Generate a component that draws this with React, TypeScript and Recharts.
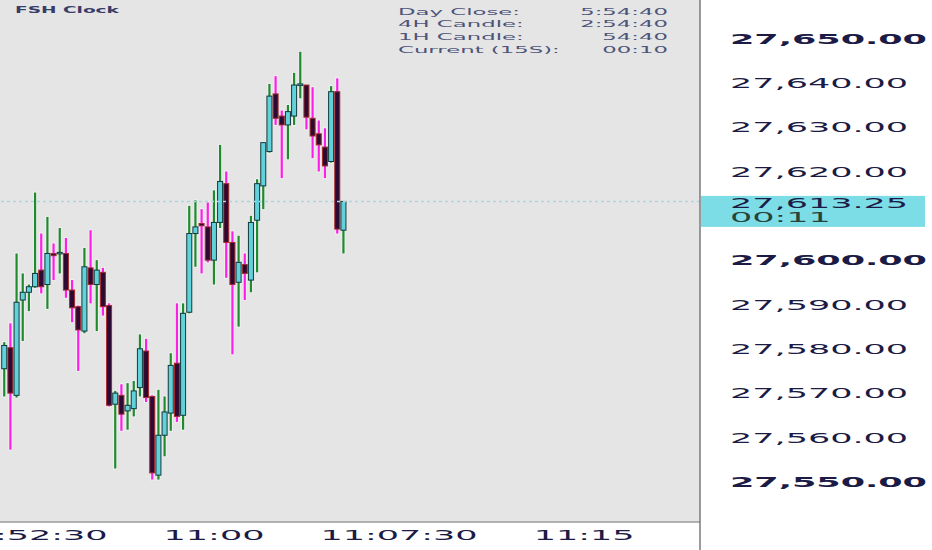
import React from "react";
import { ComposedChart, Bar, XAxis, YAxis, CartesianGrid, ReferenceLine } from "recharts";

const W = 932;
const H = 550;
const AXIS_W = 232;
const AXIS_H = 28;
const FONT = "DejaVu Sans";
const STRETCH = 2.5;

// 15 second candles, slot 0 = 10:51:30
const START_SEC = 10 * 3600 + 51 * 60 + 30;
const STEP_SEC = 15;

const opens = [
  27575.5, 27580.25, 27569.5, 27591.0, 27592.75, 27594.0, 27597.75, 27594.5, 27601.5, 27601.75,
  27601.5, 27593.25, 27589.5, 27584.0, 27598.25, 27594.5, 27597.25, 27589.75, 27567.5, 27569.5,
  27566.0, 27566.5, 27571.25, 27579.5, 27569.25, 27551.5, 27560.5, 27565.5, 27576.75, 27565.0,
  27588.25, 27606.0, 27608.25, 27607.5, 27600.0, 27608.5, 27617.25, 27604.0, 27595.0, 27599.0,
  27595.5, 27609.0, 27616.75, 27624.5, 27637.5, 27632.5, 27630.5, 27632.5, 27639.5, 27639.5,
  27632.0, 27628.5, 27625.5, 27622.25, 27638.0, 27606.75,
];
const highs = [
  27581.5, 27585.75, 27601.5, 27597.0, 27594.5, 27615.25, 27606.0, 27609.75, 27603.75, 27607.25,
  27605.0, 27595.5, 27589.75, 27602.75, 27606.75, 27600.0, 27598.25, 27590.25, 27570.5, 27572.0,
  27572.25, 27572.75, 27583.25, 27582.25, 27569.5, 27570.75, 27569.25, 27579.0, 27590.25, 27590.25,
  27612.25, 27613.5, 27611.5, 27613.0, 27615.75, 27626.0, 27620.0, 27606.5, 27605.5, 27601.5,
  27610.0, 27618.25, 27626.5, 27639.75, 27641.5, 27633.75, 27635.0, 27642.25, 27647.0, 27639.5,
  27639.0, 27631.5, 27629.75, 27639.25, 27641.0, 27613.25,
];
const lows = [
  27569.25, 27557.25, 27569.0, 27581.75, 27588.5, 27593.75, 27592.5, 27589.0, 27595.5, 27597.0,
  27591.5, 27586.0, 27575.0, 27583.5, 27590.25, 27584.0, 27587.5, 27567.0, 27553.0, 27561.5,
  27561.75, 27564.75, 27569.25, 27568.0, 27550.5, 27550.5, 27555.75, 27561.5, 27563.5, 27561.75,
  27588.0, 27598.5, 27597.0, 27599.5, 27594.5, 27607.25, 27596.0, 27578.75, 27585.0, 27591.0,
  27592.75, 27597.25, 27611.5, 27624.25, 27630.5, 27618.5, 27622.75, 27630.5, 27636.5, 27629.5,
  27623.0, 27620.0, 27618.5, 27622.0, 27606.0, 27601.5,
];
const closes = [
  27580.75, 27570.0, 27590.5, 27592.75, 27594.0, 27597.0, 27594.0, 27601.5, 27601.0, 27601.75,
  27593.25, 27589.25, 27584.25, 27598.5, 27594.5, 27597.75, 27589.5, 27567.25, 27570.0, 27565.25,
  27567.25, 27570.5, 27580.0, 27569.0, 27552.0, 27560.5, 27565.75, 27576.25, 27564.75, 27588.0,
  27606.0, 27607.5, 27607.75, 27600.0, 27608.5, 27617.75, 27604.0, 27594.5, 27599.5, 27597.0,
  27608.5, 27617.25, 27626.5, 27637.0, 27632.0, 27630.5, 27633.5, 27639.5, 27639.75, 27632.25,
  27628.0, 27626.0, 27621.25, 27638.0, 27607.0, 27613.25,
];

const lastPrice = 27613.25;
const countdown = "00:11";

const priceTicks = [27550, 27560, 27570, 27580, 27590, 27600, 27620, 27630, 27640, 27650];
const priceDomain = [27540.93, 27658.68];

const timeTicks = [4, 34, 64, 94];
const timeLabels = ["10:52:30", "11:00", "11:07:30", "11:15"];
const slotDomain = [-0.7, 112.8];

const clockLabels = ["Day Close:", "4H Candle:", "1H Candle:", "Current (15S):"];
const clockValues = ["5:54:40", "2:54:40", "54:40", "00:10"];

const data = opens.map((open, i) => ({
  slot: i,
  time: START_SEC + i * STEP_SEC,
  open,
  high: highs[i],
  low: lows[i],
  close: closes[i],
}));

const fmtPrice = (v: number) =>
  v.toLocaleString("en-US", { minimumFractionDigits: 2, maximumFractionDigits: 2 });

function Candle(props: any) {
  const { x, y, width, height, payload } = props;
  if (x == null || y == null) return null;
  const { open, high, low, close } = payload;
  const up = close >= open;
  const k = height / Math.max(high - low, 0.0001);
  const cx = x + width / 2;
  const top = y + (high - Math.max(open, close)) * k;
  const bot = y + (high - Math.min(open, close)) * k;
  const bodyH = Math.max(bot - top, 1.5);
  return (
    <g>
      <rect x={cx - 2} y={y - 1} width={4} height={height + 2} fill="#ffffff" opacity={0.45} />
      <rect x={cx - 1.1} y={y} width={2.2} height={height} fill={up ? "#1f8a2e" : "#ff1ee8"} />
      <rect
        x={cx - 2.5}
        y={top}
        width={5}
        height={bodyH}
        fill={up ? "#62d2da" : "#2c0a34"}
        stroke={up ? "#123a3e" : "#a52a2c"}
        strokeWidth={1}
      />
    </g>
  );
}

function PriceTick({ x, y, payload }: any) {
  const major = payload.value % 50 === 0;
  return (
    <g transform={`translate(${x + 30},${y}) scale(${STRETCH},1)`}>
      <text
        x={0}
        y={0}
        dy="0.36em"
        textAnchor="start"
        fontFamily={FONT}
        fontSize={14}
        fontWeight={major ? 700 : 400}
        fill="#1b1b45"
      >
        {fmtPrice(payload.value)}
      </text>
    </g>
  );
}

function TimeTick({ x, y, payload }: any) {
  const label = timeLabels[timeTicks.indexOf(payload.value)] ?? "";
  return (
    <g transform={`translate(${x},${y + 13}) scale(${STRETCH},1)`}>
      <text x={0} y={0} dy="0.36em" textAnchor="middle" fontFamily={FONT} fontSize={14} fill="#1b1b45">
        {label}
      </text>
    </g>
  );
}

function PriceBadge(props: any) {
  const vb = props.viewBox;
  if (!vb) return null;
  const left = vb.x + vb.width + 1;
  const py = vb.y;
  return (
    <g>
      <rect x={left} y={py - 5.5} width={AXIS_W - 8} height={31} fill="#7ddde7" />
      <g transform={`translate(${left + 29},${py + 1.5}) scale(${STRETCH},1)`}>
        <text x={0} y={0} dy="0.36em" fontFamily={FONT} fontSize={14} fill="#1b1b45">
          {fmtPrice(lastPrice)}
        </text>
      </g>
      <g transform={`translate(${left + 29},${py + 16}) scale(${STRETCH},1)`}>
        <text x={0} y={0} dy="0.36em" fontFamily={FONT} fontSize={14} fill="#27433a">
          {countdown}
        </text>
      </g>
    </g>
  );
}

export default function App() {
  const plotW = W - AXIS_W;
  return (
    <div style={{ position: "fixed", left: 0, top: 0, width: W, height: H, background: "#ffffff" }}>
      <ComposedChart width={W} height={H} data={data} margin={{ top: 0, right: 0, bottom: 0, left: 0 }}>
        <CartesianGrid horizontal={false} vertical={false} fill="#e5e5e5" stroke="none" />
        <XAxis
          dataKey="slot"
          type="number"
          domain={slotDomain}
          allowDataOverflow
          ticks={timeTicks}
          interval={0}
          height={AXIS_H}
          tickLine={false}
          tickSize={0}
          tickMargin={0}
          axisLine={{ stroke: "#9a9a9a", strokeWidth: 1.5 }}
          tick={<TimeTick />}
        />
        <YAxis
          orientation="right"
          type="number"
          domain={priceDomain}
          allowDataOverflow
          ticks={priceTicks}
          interval={0}
          width={AXIS_W}
          tickLine={false}
          tickSize={0}
          tickMargin={0}
          axisLine={{ stroke: "#7a7a7a", strokeWidth: 1.5 }}
          tick={<PriceTick />}
        />
        <ReferenceLine
          y={lastPrice}
          stroke="#a6d9e1"
          strokeWidth={1.5}
          strokeDasharray="3 3"
          label={<PriceBadge />}
        />
        <Bar
          dataKey={(d: any) => [d.low, d.high]}
          barSize={6}
          shape={<Candle />}
          isAnimationActive={false}
        />
      </ComposedChart>
      <svg
        width={W}
        height={H}
        style={{ position: "absolute", left: 0, top: 0, pointerEvents: "none" }}
      >
        <line x1={plotW} y1={H - AXIS_H} x2={plotW} y2={H} stroke="#7a7a7a" strokeWidth={1.5} />
        <g transform="translate(15,13) scale(1.95,1)">
          <text fontFamily={FONT} fontSize={9.5} fontWeight={700} fill="#383c68">
            FSH Clock
          </text>
        </g>
        {clockLabels.map((label, i) => (
          <g key={label}>
            <g transform={`translate(398,${14.5 + i * 12.9}) scale(2.4,1)`}>
              <text fontFamily={FONT} fontSize={9.5} fill="#4d5479">
                {label}
              </text>
            </g>
            <g transform={`translate(668,${14.5 + i * 12.9}) scale(2.4,1)`}>
              <text fontFamily={FONT} fontSize={9.5} fill="#4d5479" textAnchor="end">
                {clockValues[i]}
              </text>
            </g>
          </g>
        ))}
      </svg>
    </div>
  );
}
